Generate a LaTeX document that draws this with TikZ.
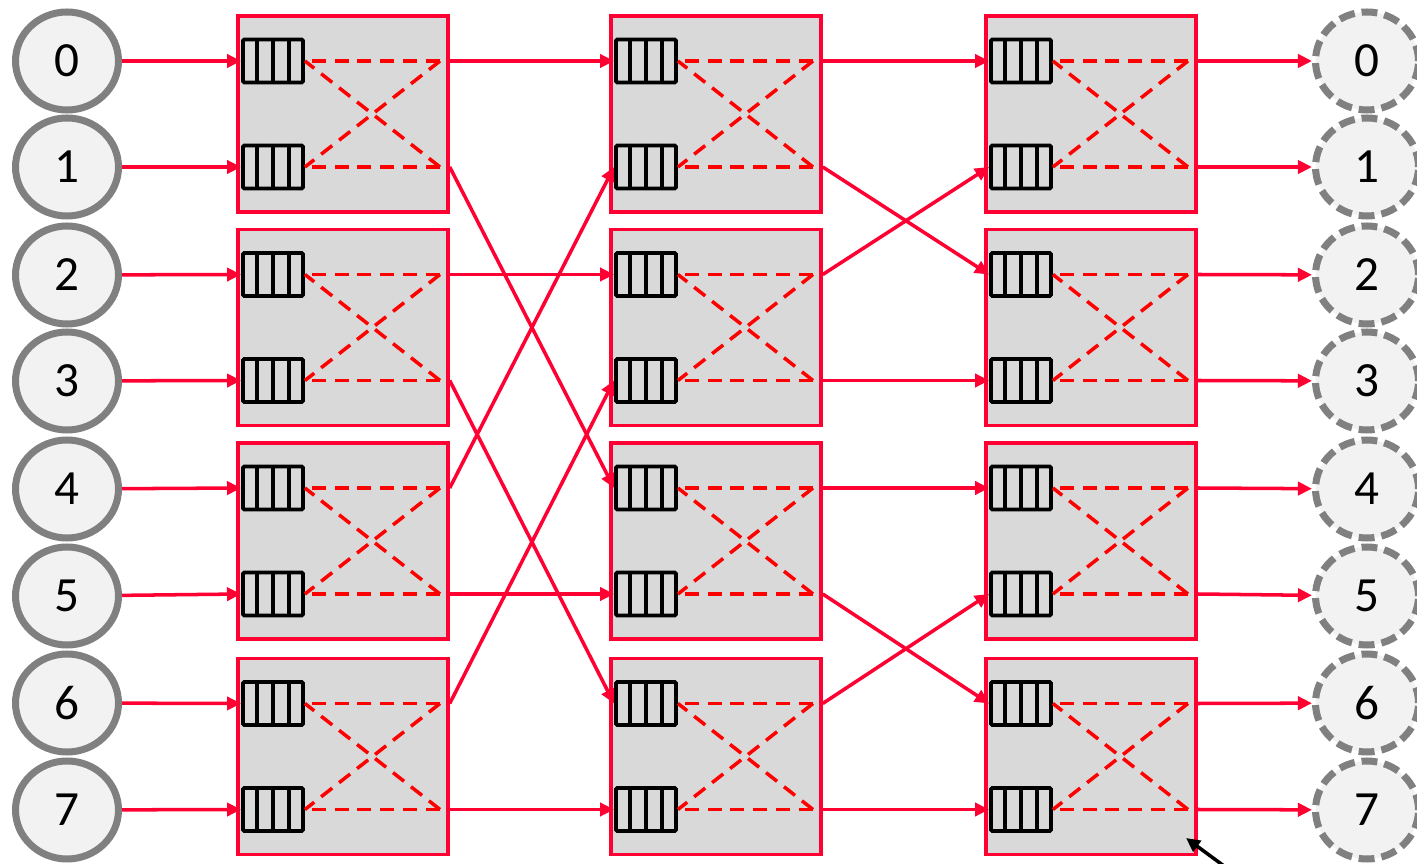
\documentclass[tikz,border=0pt]{standalone}
\usepackage{fontspec}
\setmainfont{Carlito}
\usetikzlibrary{arrows.meta,shapes.geometric,calc}
\definecolor{cred}{RGB}{255,0,51}
\definecolor{dred}{RGB}{255,0,0}
\definecolor{boxfill}{RGB}{217,217,217}
\definecolor{cfill}{RGB}{242,242,242}
\definecolor{cgray}{RGB}{128,128,128}
\tikzset{
  sw/.style={draw=cred, fill=boxfill, line width=2pt, minimum width=4.2cm, minimum height=3.92cm, inner sep=0pt},
  queue/.style={draw=black, fill=boxfill, line width=2.2pt, minimum width=1.2cm, minimum height=0.86cm, inner sep=0pt, rounded corners=0.8pt},
  qline/.style={draw=black, line width=2.2pt},
  inner/.style={draw=dred, line width=2pt, dash pattern=on 8pt off 5pt},
  conn/.style={draw=cred, line width=2pt, -{Triangle[length=8pt,width=7.5pt]}},
  srcnode/.style={ellipse, draw=cgray, fill=cfill, line width=4pt, minimum width=2.06cm, minimum height=1.96cm, inner sep=0pt, font=\fontsize{28}{30}\selectfont},
  dstnode/.style={srcnode, dash pattern=on 9pt off 4pt},
  pointer/.style={draw=black, line width=2pt, -{Triangle[length=8pt,width=7.5pt]}}
}
\begin{document}
\begin{tikzpicture}[x=0.02cm, y=-0.02cm]
\useasboundingbox (0,0) rectangle (1417,864);
% switches
\foreach \c/\cx in {1/343,2/716,3/1091} {
  \foreach \r/\ry in {0/114,1/327.5,2/541,3/756.5} {
    \node[sw] (b-\c-\r) at (\cx,\ry) {};
    \node[queue] (q-\c-\r-0) at (\cx-70,\ry-53) {};
    \node[queue] (q-\c-\r-1) at (\cx-70,\ry+53) {};
    \foreach \k in {0,1} {
      \foreach \f in {0.25,0.5,0.75} {
        \draw[qline] ($(q-\c-\r-\k.north west)!\f!(q-\c-\r-\k.north east)$) -- ($(q-\c-\r-\k.south west)!\f!(q-\c-\r-\k.south east)$);
      }
    }
    \coordinate (d-\c-\r-0) at (\cx+97,\ry-53);
    \coordinate (d-\c-\r-1) at (\cx+97,\ry+53);
    \draw[inner] (d-\c-\r-0) -- (q-\c-\r-0.east);
    \draw[inner] (d-\c-\r-1) -- (q-\c-\r-1.east);
    \draw[inner] (d-\c-\r-0) -- (q-\c-\r-1.east);
    \draw[inner] (d-\c-\r-1) -- (q-\c-\r-0.east);
  }
}
% sources and destinations
\foreach \i/\r/\k/\y in {0/0/0/61,1/0/1/167,2/1/0/275,3/1/1/381,4/2/0/489,5/2/1/596,6/3/0/703,7/3/1/810} {
  \node[srcnode] (in-\i) at (67,\y) {\i};
  \node[dstnode] (out-\i) at (1367,\y) {\i};
  \draw[conn] (in-\i) -- (q-1-\r-\k.west);
  \draw[conn] (q-3-\r-\k -| b-3-\r.east) -- (out-\i);
}
% stage 1
\foreach \a/\b/\c/\d in {0/0/0/0,0/1/2/0,1/0/1/0,1/1/3/0,2/0/0/1,2/1/2/1,3/0/1/1,3/1/3/1} {
  \draw[conn] (q-1-\a-\b -| b-1-\a.east) -- (q-2-\c-\d.west);
}
% stage 2
\foreach \a/\b/\c/\d in {0/0/0/0,0/1/1/0,1/0/0/1,1/1/1/1,2/0/2/0,2/1/3/0,3/0/2/1,3/1/3/1} {
  \draw[conn] (q-2-\a-\b -| b-2-\a.east) -- (q-3-\c-\d.west);
}
% pointer
\coordinate (ptr-start) at (1224,866);
\coordinate (ptr-end) at (1186,838);
\draw[pointer] (ptr-start) -- (ptr-end);
\end{tikzpicture}
\end{document}
